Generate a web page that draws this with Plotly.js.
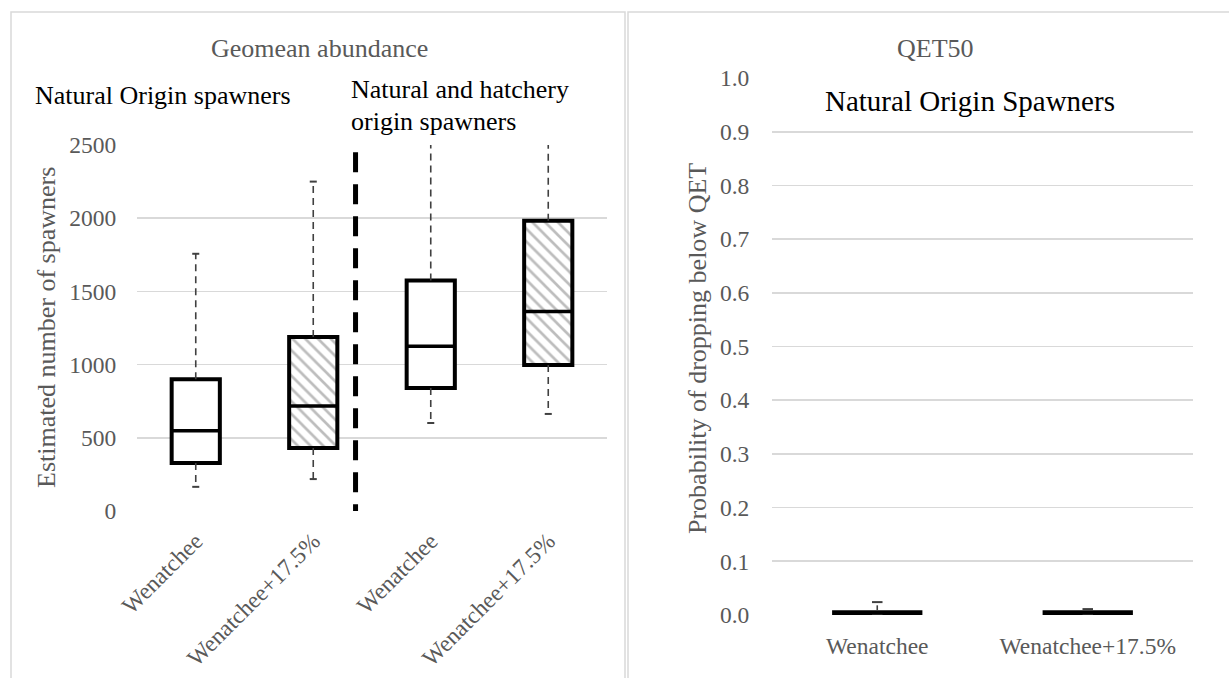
<!DOCTYPE html>
<html>
<head>
<meta charset="utf-8">
<script src="https://cdn.plot.ly/plotly-3.0.1.min.js"></script>
<style>html,body{margin:0;padding:0;background:#fff;}#chart{width:1229px;height:678px;}</style>
</head>
<body>
<div id="chart"></div>
<script>
// ---- Data: left panel (Geomean abundance) ----
const abundCategories = ["Wenatchee", "Wenatchee+17.5%", "Wenatchee", "Wenatchee+17.5%"];
const abundLower  = [165, 218, 601, 663];
const abundQ1     = [328, 430, 840, 997];
const abundMedian = [548, 717, 1125, 1362];
const abundQ3     = [900, 1188, 1575, 1983];
const abundUpper  = [1757, 2250, 2700, 3100];
const abundHatched = [false, true, false, true];
const groupLabels = ["Natural Origin spawners", "Natural and hatchery", "origin spawners"];
const dividerX = 1.36;      // hand-drawn separator between the two groups
const dividerTop = 2450;

// ---- Data: right panel (QET50) ----
const qetCategories = ["Wenatchee", "Wenatchee+17.5%"];
const qetLower  = [0, 0];
const qetQ1     = [0.003, 0.003];
const qetMedian = [0.004, 0.004];
const qetQ3     = [0.005, 0.005];
const qetUpper  = [0.024, 0.011];

// ---- helpers ----
const W = 1229, H = 678;
const px = v => v / W;
const py = v => 1 - v / H;
const FONT = "Liberation Serif, Times New Roman, serif";
const GRAY = "#595959";

function boxTraces(cats, lo, q1, med, q3, hi, hatched, xa, ya, halfW, capW) {
  const xs = cats.map((_, i) => i);
  const traces = [];
  const wx = [], wy = [];
  xs.forEach((x, i) => { wx.push(x, x, null, x, x, null); wy.push(q3[i], hi[i], null, q1[i], lo[i], null); });
  traces.push({type: "scatter", mode: "lines", x: wx, y: wy, xaxis: xa, yaxis: ya,
    line: {color: "#404040", width: 1.6, dash: "7px,5px"}, hoverinfo: "skip"});
  const cx = [], cy = [];
  xs.forEach((x, i) => { cx.push(x - capW, x + capW, null, x - capW, x + capW, null); cy.push(hi[i], hi[i], null, lo[i], lo[i], null); });
  traces.push({type: "scatter", mode: "lines", x: cx, y: cy, xaxis: xa, yaxis: ya,
    line: {color: "#404040", width: 2}, hoverinfo: "skip"});
  traces.push({type: "bar", x: xs, base: q1, y: q3.map((v, i) => v - q1[i]), width: 2 * halfW,
    xaxis: xa, yaxis: ya, hoverinfo: "skip",
    marker: {color: "#ffffff", line: {color: "#000000", width: 4},
      pattern: {shape: hatched.map(h => h ? "\\" : ""), fgcolor: "#bdbdbd", bgcolor: "#ffffff",
        size: 9, solidity: 0.3, fillmode: "replace"}}});
  const mx = [], my = [];
  xs.forEach((x, i) => { mx.push(x - halfW, x + halfW, null); my.push(med[i], med[i], null); });
  traces.push({type: "scatter", mode: "lines", x: mx, y: my, xaxis: xa, yaxis: ya,
    line: {color: "#000000", width: 3.5}, hoverinfo: "skip"});
  return traces;
}

const data = [
  ...boxTraces(abundCategories, abundLower, abundQ1, abundMedian, abundQ3, abundUpper, abundHatched, "x", "y", 0.205, 0.03),
  {type: "scatter", mode: "lines", x: [dividerX, dividerX], y: [dividerTop, 0], xaxis: "x", yaxis: "y",
    line: {color: "#000000", width: 5, dash: "20px,12px"}, hoverinfo: "skip"},
  ...boxTraces(qetCategories, qetLower, qetQ1, qetMedian, qetQ3, qetUpper, [false, false], "x2", "y2", 0.205, 0.025)
];

const tickFont = {family: FONT, size: 23.5, color: GRAY};

const layout = {
  width: W, height: H,
  margin: {l: 0, r: 0, t: 0, b: 0},
  paper_bgcolor: "#ffffff", plot_bgcolor: "#ffffff",
  showlegend: false, hovermode: false, barmode: "overlay",
  font: {family: FONT, color: GRAY},
  xaxis: {domain: [px(137), px(607)], range: [-0.5, 3.5], tickvals: [0, 1, 2, 3], ticktext: abundCategories,
    tickangle: -45, showgrid: false, zeroline: false, showline: false,
    ticks: "outside", ticklen: 6, tickcolor: "rgba(0,0,0,0)", tickfont: tickFont, fixedrange: true},
  yaxis: {domain: [py(511), py(145)], range: [0, 2500], dtick: 500, tick0: 0,
    showgrid: true, gridcolor: "#d9d9d9", gridwidth: 1.6, zeroline: false, showline: false,
    ticks: "outside", ticklen: 15, tickcolor: "rgba(0,0,0,0)", tickfont: tickFont, fixedrange: true},
  xaxis2: {domain: [px(772), px(1193)], range: [-0.5, 1.5], tickvals: [0, 1], ticktext: qetCategories,
    tickangle: 0, showgrid: false, zeroline: false, showline: false, anchor: "y2",
    ticks: "outside", ticklen: 10, tickcolor: "rgba(0,0,0,0)", tickfont: tickFont, fixedrange: true},
  yaxis2: {domain: [py(615), py(78)], range: [0, 1], dtick: 0.1, tick0: 0, tickformat: ".1f", anchor: "x2",
    showgrid: true, gridcolor: "#d9d9d9", gridwidth: 1.6, zeroline: false, showline: false,
    ticks: "outside", ticklen: 17, tickcolor: "rgba(0,0,0,0)", tickfont: tickFont, fixedrange: true},
  shapes: [
    {type: "rect", xref: "paper", yref: "paper", x0: px(11), x1: px(625), y0: py(700), y1: py(12),
      line: {color: "#d9d9d9", width: 1.5}, fillcolor: "rgba(0,0,0,0)", layer: "below"},
    {type: "rect", xref: "paper", yref: "paper", x0: px(628), x1: px(1240), y0: py(700), y1: py(12),
      line: {color: "#d9d9d9", width: 1.5}, fillcolor: "rgba(0,0,0,0)", layer: "below"}
  ],
  annotations: [
    {text: "Geomean abundance", xref: "paper", yref: "paper", x: px(319), y: py(48), xanchor: "center", yanchor: "middle",
      showarrow: false, font: {family: FONT, size: 26, color: GRAY}},
    {text: "QET50", xref: "paper", yref: "paper", x: px(935), y: py(48), xanchor: "center", yanchor: "middle",
      showarrow: false, font: {family: FONT, size: 26, color: GRAY}},
    {text: groupLabels[0], xref: "paper", yref: "paper", x: px(33), y: py(95), xanchor: "left", yanchor: "middle",
      showarrow: false, font: {family: FONT, size: 26, color: "#000000"}},
    {text: groupLabels[1], xref: "paper", yref: "paper", x: px(349), y: py(90), xanchor: "left", yanchor: "middle",
      showarrow: false, font: {family: FONT, size: 26, color: "#000000"}},
    {text: groupLabels[2], xref: "paper", yref: "paper", x: px(349), y: py(121), xanchor: "left", yanchor: "middle",
      showarrow: false, font: {family: FONT, size: 26, color: "#000000"}},
    {text: "Natural Origin Spawners", xref: "paper", yref: "paper", x: px(970), y: py(101), xanchor: "center", yanchor: "middle",
      showarrow: false, font: {family: FONT, size: 29, color: "#000000"}},
    {text: "Estimated number of spawners", xref: "paper", yref: "paper", x: px(47), y: py(328), xanchor: "center", yanchor: "middle",
      textangle: -90, showarrow: false, font: {family: FONT, size: 26, color: GRAY}},
    {text: "Probability of dropping below QET", xref: "paper", yref: "paper", x: px(697), y: py(348), xanchor: "center", yanchor: "middle",
      textangle: -90, showarrow: false, font: {family: FONT, size: 26, color: GRAY}}
  ]
};

Plotly.newPlot("chart", data, layout, {staticPlot: true, displayModeBar: false});
</script>
</body>
</html>
